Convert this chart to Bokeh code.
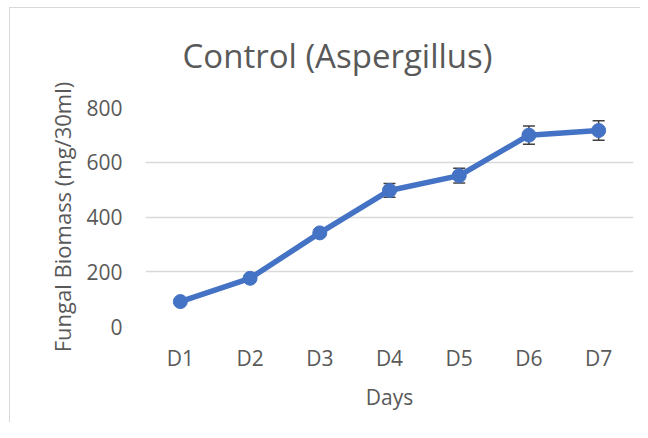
from bokeh.plotting import figure
from bokeh.models import ColumnDataSource, Whisker, Range1d, FactorRange, FixedTicker, Title
from bokeh.embed import file_html
from bokeh.resources import INLINE

days = ["D1", "D2", "D3", "D4", "D5", "D6", "D7"]
biomass = [91, 176, 342, 497, 551, 699, 716]
err = [8, 10, 12, 25, 27, 33, 36]
y_ticks = [0, 200, 400, 600, 800]

upper = [b + e for b, e in zip(biomass, err)]
lower = [b - e for b, e in zip(biomass, err)]
src = ColumnDataSource(dict(day=days, y=biomass, upper=upper, lower=lower))

FONT = "Open Sans"
GRAY = "#595959"
BLUE = "#4472C4"
EDGE = "#d9d9d9"

p = figure(width=640, height=422, output_backend="svg", toolbar_location=None,
           x_range=FactorRange(*days, range_padding=0), y_range=Range1d(0, 800),
           min_border_left=145, min_border_right=7, min_border_top=106, min_border_bottom=96)
p.border_fill_color = None
p.background_fill_color = "white"
p.outline_line_color = None
p.styles = {
    "background-color": "white",
    "background-image": f"linear-gradient({EDGE},{EDGE}), linear-gradient({EDGE},{EDGE})",
    "background-size": "1px 100%, 100% 1px",
    "background-position": "9px 7px, 9px 7px",
    "background-repeat": "no-repeat, no-repeat",
}

t = Title(text="Control (Aspergillus)", align="left", offset=37,
          text_font=FONT, text_font_size="33px", text_font_style="normal",
          text_color=GRAY, standoff=60)
p.add_layout(t, "above")

p.xgrid.grid_line_color = None
p.ygrid.grid_line_color = EDGE
p.ygrid.grid_line_width = 1.5
p.yaxis.ticker = FixedTicker(ticks=y_ticks)

for ax in (p.xaxis, p.yaxis):
    ax.axis_line_color = None
    ax.major_tick_line_color = None
    ax.minor_tick_line_color = None
    ax.major_tick_out = 0
    ax.major_tick_in = 0
    ax.major_label_text_font = FONT
    ax.major_label_text_font_size = "21px"
    ax.major_label_text_color = GRAY
    ax.axis_label_text_font = FONT
    ax.axis_label_text_font_size = "21px"
    ax.axis_label_text_font_style = "normal"
    ax.axis_label_text_color = GRAY

p.yaxis.axis_label_text_font_size = "22px"
p.xaxis.axis_label = "Days"
p.yaxis.axis_label = "Fungal Biomass (mg/30ml)"
p.xaxis.major_label_standoff = 17
p.xaxis.axis_label_standoff = 8
p.yaxis.major_label_standoff = 23
p.yaxis.axis_label_standoff = 6

w = Whisker(source=src, base="day", upper="upper", lower="lower",
            line_color="#404040", line_width=1.5)
w.upper_head.size = 12
w.lower_head.size = 12
w.upper_head.line_color = "#404040"
w.lower_head.line_color = "#404040"
w.upper_head.line_width = 1.5
w.lower_head.line_width = 1.5
p.add_layout(w)

p.line(x="day", y="y", source=src, line_color=BLUE, line_width=5.5)
p.scatter(x="day", y="y", source=src, size=14, fill_color=BLUE, line_color=BLUE)

open("out.html", "w").write(file_html(p, INLINE))
